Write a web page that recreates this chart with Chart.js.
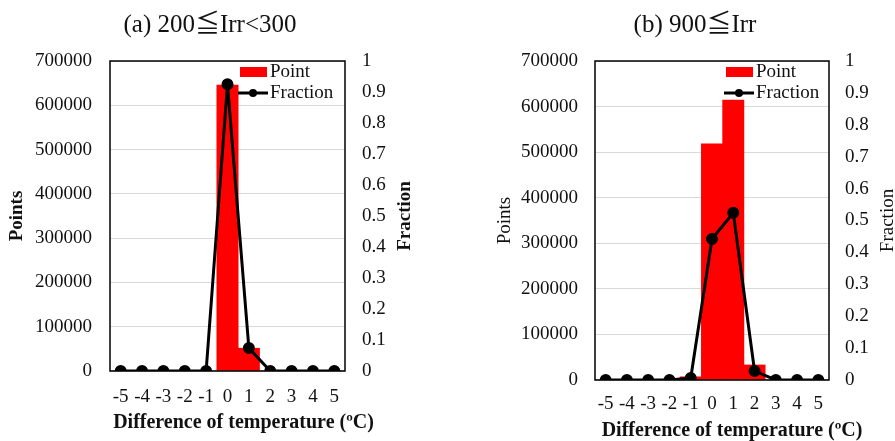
<!DOCTYPE html>
<html>
<head>
<meta charset="utf-8">
<script src="https://cdn.jsdelivr.net/npm/chart.js@4/dist/chart.umd.min.js"></script>
<style>
  body { margin: 0; background: #fff; overflow: hidden; width: 895px; height: 441px; position: relative; }
  canvas { position: absolute; top: 0; }
</style>
</head>
<body>
<canvas id="chartA" width="420" height="441" style="left:0px"></canvas>
<canvas id="chartB" width="410" height="441" style="left:490px"></canvas>
<script>
// categories (difference of temperature)
var tempLabels = ["-5", "-4", "-3", "-2", "-1", "0", "1", "2", "3", "4", "5"];

// (a) 200 <= Irr < 300
var pointsA = [0, 0, 0, 0, 0, 645500, 51500, 0, 0, 0, 0];
var fractionA = [0, 0, 0, 0, 0, 0.925, 0.074, 0, 0, 0, 0];

// (b) 900 <= Irr
var pointsB = [0, 0, 0, 0, 7000, 518000, 614000, 33000, 0, 0, 0];
var fractionB = [0, 0, 0, 0, 0.006, 0.442, 0.524, 0.028, 0, 0, 0];

var serif = "'Liberation Serif', 'Times New Roman', serif";
var titleFont = "'Liberation Serif', 'Noto Sans CJK JP', serif";

// frame round the plot, legend inside it, the x title (wider than the plot)
// and the right axis title (reads bottom to top)
var extrasPlugin = {
    id: 'extras',
    afterDatasetsDraw: function(chart) {
        let ctx = chart.ctx;
        let a = chart.chartArea;
        let o = chart.options.plugins.extras;

        ctx.save();
        ctx.strokeStyle = "#000";
        ctx.lineWidth = 1.5;
        ctx.strokeRect(a.left, a.top, a.right - a.left, a.bottom - a.top);

        // legend
        ctx.font = "19px " + serif;
        ctx.fillStyle = "#ff0000";
        ctx.fillRect(a.right - o.legendX, a.top + 6, 27, 10);
        ctx.strokeStyle = "#000";
        ctx.lineWidth = 3;
        ctx.beginPath();
        ctx.moveTo(a.right - o.legendX - 2, a.top + 32);
        ctx.lineTo(a.right - o.legendX + 28, a.top + 32);
        ctx.stroke();
        ctx.fillStyle = "#000";
        ctx.beginPath();
        ctx.arc(a.right - o.legendX + 13, a.top + 32, 4, 0, Math.PI * 2);
        ctx.fill();
        ctx.fillStyle = "#111";
        ctx.textAlign = "left";
        ctx.textBaseline = "middle";
        ctx.fillText("Point", a.right - o.legendX + 30, a.top + 11);
        ctx.fillText("Fraction", a.right - o.legendX + 30, a.top + 32);

        // x axis title
        ctx.font = "bold 20px " + serif;
        ctx.textAlign = "center";
        ctx.fillText("Difference of temperature (\u00baC)", (a.left + a.right) / 2 + o.xTitleDX, a.bottom + o.xTitleDY);

        // right axis title
        ctx.font = (o.bold ? "bold " : "") + "19px " + serif;
        ctx.translate(a.right + o.rightTitleX, (a.top + a.bottom) / 2);
        ctx.rotate(-Math.PI / 2);
        ctx.fillText("Fraction", 0, 0);
        ctx.restore();
    }
};

function makePanel(canvasId, title, bars, fractions, s) {
    let chartData = {
        labels: tempLabels,
        datasets: [
            {
                type: "line",
                label: "Fraction",
                data: fractions,
                yAxisID: "y1",
                borderColor: "#000",
                backgroundColor: "#000",
                borderWidth: 3,
                pointRadius: 4.5,
                pointBackgroundColor: "#000",
                tension: 0,
            },
            {
                type: "bar",
                label: "Point",
                data: bars,
                yAxisID: "y",
                backgroundColor: "#ff0000",
                borderWidth: 0,
                barPercentage: 1,
                categoryPercentage: 1,
            }
        ]
    };

    let config = {
        data: chartData,
        options: {
            responsive: false,
            animation: false,
            layout: { padding: 0 },
            plugins: {
                legend: { display: false },
                tooltip: { enabled: false },
                title: {
                    display: true,
                    text: title,
                    color: "#111",
                    font: { family: titleFont, size: 25, weight: "normal" },
                    padding: { top: 10, bottom: 21 }
                },
                extras: {
                    legendX: s.legendX, rightTitleX: s.rightTitleX, bold: s.bold,
                    xTitleDX: s.xTitleDX, xTitleDY: s.xTitleDY
                }
            },
            scales: {
                x: {
                    grid: { display: false, drawTicks: false },
                    border: { display: false },
                    ticks: {
                        color: "#111",
                        font: { family: serif, size: 19 },
                        padding: s.xTickPad,
                        maxRotation: 0,
                        autoSkip: false
                    },
                    afterFit: function(scale) { scale.height = s.xHeight; }
                },
                y: {
                    position: "left",
                    min: 0,
                    max: 700000,
                    grid: { color: "#d9d9d9", lineWidth: 1, drawTicks: false },
                    border: { display: false },
                    ticks: {
                        stepSize: 100000,
                        color: "#111",
                        font: { family: serif, size: 19 },
                        padding: s.leftTickPad,
                        callback: function(value) { return String(value); }
                    },
                    title: {
                        display: true,
                        text: "Points",
                        color: "#111",
                        font: { family: serif, size: 19, weight: s.bold ? "bold" : "normal" },
                        padding: { top: s.leftTitlePad, bottom: 0 }
                    },
                    afterFit: function(scale) { scale.width = s.leftWidth; }
                },
                y1: {
                    position: "right",
                    min: 0,
                    max: 1,
                    grid: { display: false, drawTicks: false },
                    border: { display: false },
                    ticks: {
                        stepSize: 0.1,
                        color: "#111",
                        font: { family: serif, size: 19 },
                        padding: s.rightTickPad,
                        callback: function(value) { return String(Number(value.toFixed(1))); }
                    },
                    afterFit: function(scale) { scale.width = s.rightWidth; }
                }
            }
        },
        plugins: [extrasPlugin]
    };

    return new Chart(document.getElementById(canvasId), config);
}

makePanel("chartA", "(a) 200\u2266Irr<300", pointsA, fractionA, {
    leftWidth: 110, rightWidth: 75, xHeight: 70,
    leftTickPad: 18, rightTickPad: 17, leftTitlePad: 6,
    xTickPad: 15, xTitleDX: 16, xTitleDY: 52,
    legendX: 105, rightTitleX: 60, bold: true
});

makePanel("chartB", "(b) 900\u2266Irr", pointsB, fractionB, {
    leftWidth: 105, rightWidth: 71, xHeight: 61,
    leftTickPad: 17, rightTickPad: 16, leftTitlePad: 4,
    xTickPad: 13, xTitleDX: 20, xTitleDY: 51,
    legendX: 103, rightTitleX: 59, bold: false
});
</script>
</body>
</html>
